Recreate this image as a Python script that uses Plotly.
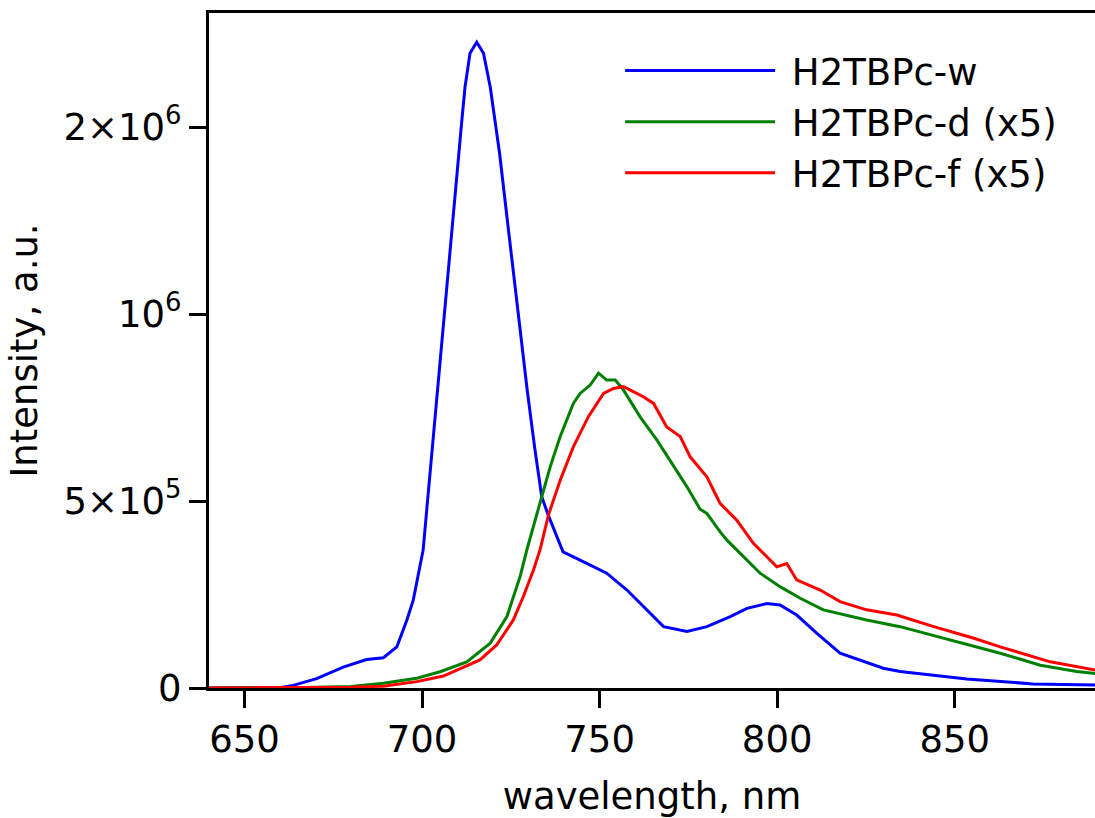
import numpy as np
import plotly.graph_objects as go

# ---- data ----
wl_w = [640, 650, 660, 663.7, 665.6, 670.3, 677.8, 684.4, 689.1, 692.9, 695.7, 697.5, 700.3,
        702.3, 705.1, 707.9, 710.2, 711.2, 712.1, 713.5, 715.4, 717.3, 719.2, 720.6, 721.8,
        724.5, 727.0, 729.6, 731.8, 733.7, 735.5, 739.7, 744.5, 747.3, 752.0, 757.7, 763.3,
        768.0, 774.6, 780.2, 786.8, 791.5, 797.1, 800.8, 805.5, 811.2, 817.7, 829.9, 834.6,
        853.4, 872.1, 889.6]
int_w = [0, 0, 1e3, 7e3, 1.2e4, 2.5e4, 5.6e4, 7.6e4, 8.1e4, 1.1e5, 1.81e5, 2.34e5, 3.69e5,
         5.59e5, 8.5e5, 1.296e6, 1.82e6, 2.05e6, 2.32e6, 2.63e6, 2.74e6, 2.63e6, 2.32e6, 2.05e6, 1.82e6,
         1.34e6, 1.0e6, 7.55e5, 6.04e5, 5.08e5, 4.63e5, 3.64e5, 3.42e5, 3.29e5, 3.07e5, 2.62e5, 2.09e5,
         1.64e5, 1.51e5, 1.64e5, 1.91e5, 2.13e5, 2.26e5, 2.22e5, 1.95e5, 1.46e5, 9.3e4, 5.3e4, 4.4e4,
         2.4e4, 1.1e4, 8e3]

wl_d = [640, 660, 680, 689.1, 698.5, 705.1, 712.6, 719.2, 723.9, 727.6, 729.5, 731.4, 733.7,
        736.1, 738.9, 742.6, 744.5, 747.3, 749.7, 752.0, 754.4, 756.7, 761.4, 766.1, 770.8,
        774.6, 778.3, 780.2, 783.9, 785.8, 789.6, 795.2, 800.8, 806.5, 813.0, 816.8, 825.2,
        834.6, 848.2, 862.8, 874.1, 884.4, 889.6]
int_d = [0, 0, 4e3, 1.26e4, 2.6e4, 4.36e4, 7.0e4, 1.2e5, 1.91e5, 2.98e5, 3.69e5, 4.31e5, 5.08e5,
         5.68e5, 6.35e5, 7.18e5, 7.45e5, 7.68e5, 8.03e5, 7.83e5, 7.83e5, 7.55e5, 6.83e5, 6.27e5, 5.68e5,
         5.27e5, 4.78e5, 4.67e5, 4.18e5, 3.96e5, 3.60e5, 3.07e5, 2.71e5, 2.40e5, 2.09e5, 2.00e5, 1.82e5,
         1.64e5, 1.30e5, 9.3e4, 6.1e4, 4.4e4, 3.9e4]

wl_f = [640, 660, 680, 689.1, 698.5, 706.0, 716.3, 721.0, 725.7, 728.5, 731.4, 733.2, 735.6,
        738.9, 742.6, 746.8, 749.2, 751.1, 753.9, 756.7, 759.5, 762.3, 765.2, 768.9, 772.7,
        775.5, 780.2, 783.9, 788.6, 793.3, 799.9, 802.7, 805.5, 812.1, 817.7, 825.2, 833.7,
        844.1, 855.4, 862.8, 876.9, 889.6]
int_f = [0, 0, 2e3, 5e3, 1.7e4, 3.2e4, 7.5e4, 1.15e5, 1.82e5, 2.44e5, 3.16e5, 3.69e5, 4.63e5,
         5.40e5, 6.11e5, 6.83e5, 7.18e5, 7.45e5, 7.59e5, 7.64e5, 7.50e5, 7.36e5, 7.18e5, 6.58e5, 6.35e5,
         5.89e5, 5.47e5, 4.94e5, 4.49e5, 3.87e5, 3.24e5, 3.33e5, 2.89e5, 2.62e5, 2.31e5, 2.09e5, 1.95e5,
         1.64e5, 1.33e5, 1.10e5, 7.0e4, 4.8e4]

series_names = ["H2TBPc-w", "H2TBPc-d (x5)", "H2TBPc-f (x5)"]
series_colors = ["#0000ff", "#008000", "#ff0000"]

y_tick_values = [0, 5e5, 1e6, 2e6]
y_tick_labels = ["0", "5×10<sup>5</sup>", "10<sup>6</sup>", "2×10<sup>6</sup>"]
x_tick_values = [650, 700, 750, 800, 850]

# ---- symmetric-log (base 2) y scale: linear up to 5e5, logarithmic above ----
LINTHRESH = 5e5
def symlog2(v):
    v = np.asarray(v, dtype=float)
    return np.where(v <= LINTHRESH, v / LINTHRESH,
                    1 + np.log2(np.maximum(v, LINTHRESH) / LINTHRESH))

FONT = "DejaVu Sans"
fig = go.Figure()
for wl, iv, name, col in zip([wl_w, wl_d, wl_f], [int_w, int_d, int_f], series_names, series_colors):
    fig.add_trace(go.Scatter(x=wl, y=symlog2(iv), mode="lines", name="\u00a0" + name,
                             line=dict(color=col, width=3)))

fig.update_layout(
    width=1095, height=818,
    margin=dict(l=209, r=0, t=13, b=130),
    plot_bgcolor="white", paper_bgcolor="white",
    font=dict(family=FONT, size=37, color="black"),
    showlegend=True,
    legend=dict(x=0.464, y=0.96, xanchor="left", yanchor="top",
                bgcolor="rgba(0,0,0,0)", itemwidth=150,
                font=dict(family=FONT, size=37, color="black")),
    xaxis=dict(range=[640, 889.5], tickvals=x_tick_values, ticks="outside", ticklen=17,
               tickwidth=3, tickcolor="black", showline=True, linecolor="black", linewidth=3,
               mirror=True, showgrid=False, zeroline=False,
               title=dict(text="wavelength, nm", standoff=28, font=dict(size=37))),
    yaxis=dict(range=[0, 3.61], tickvals=symlog2(y_tick_values).tolist(), ticktext=y_tick_labels,
               ticks="outside", ticklen=17, tickwidth=3, tickcolor="black", showline=True,
               linecolor="black", linewidth=3, showgrid=False, zeroline=False,
               title=dict(text="Intensity, a.u.", standoff=15, font=dict(size=37))),
)

fig.write_html("out.html")
